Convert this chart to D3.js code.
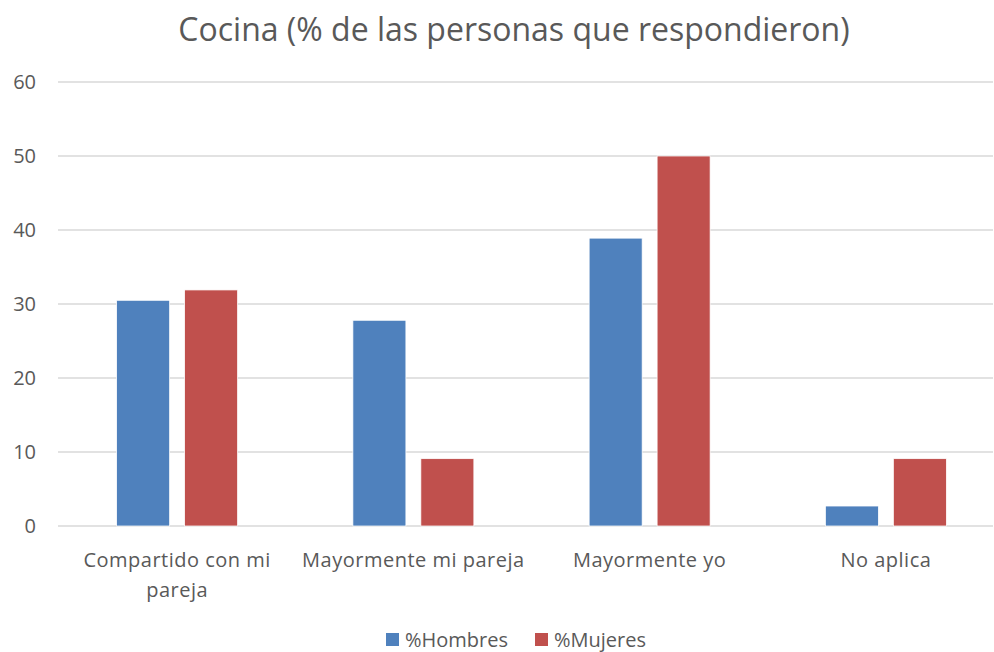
<!DOCTYPE html>
<html>
<head>
<meta charset="utf-8">
<script src="https://cdn.jsdelivr.net/npm/d3@7"></script>
<style>
  body { margin: 0; background: #fff; }
  text { font-family: "Open Sans", "Liberation Sans", sans-serif; fill: #595959; }
</style>
</head>
<body>
<script>
//chart data
var categories = ["Compartido con mi pareja", "Mayormente mi pareja", "Mayormente yo", "No aplica"];
var seriesNames = ["%Hombres", "%Mujeres"];
var hombres = [30.5, 27.8, 38.9, 2.7];
var mujeres = [31.9, 9.1, 50.0, 9.1];
var yTicks = [0, 10, 20, 30, 40, 50, 60];
var colors = ["#4F81BD", "#C0504D"];

(function(){
    var width = 994, height = 652;
    var left = 58, right = 993, top = 82, bottom = 526;

    var svg = d3.select("body").append("svg")
        .attr("width", width)
        .attr("height", height);

    //title
    svg.append("text")
        .attr("x", 514)
        .attr("y", 41)
        .attr("text-anchor", "middle")
        .style("font-size", "32px")
        .text("Cocina (% de las personas que respondieron)");

    var y = d3.scaleLinear().domain([0, 60]).range([bottom, top]);
    var x0 = d3.scaleBand().domain(categories).range([59, 1004]);
    var x1 = d3.scaleBand().domain(seriesNames).range([0, x0.bandwidth()])
        .paddingInner(0.22).paddingOuter(0.848);

    //gridlines
    svg.selectAll(".grid")
        .data(yTicks)
        .enter().append("line")
        .attr("x1", left).attr("x2", right)
        .attr("y1", function(d){ return y(d); })
        .attr("y2", function(d){ return y(d); })
        .attr("stroke", "#D9D9D9")
        .attr("stroke-width", 1.5);

    //y tick labels
    svg.selectAll(".ytick")
        .data(yTicks)
        .enter().append("text")
        .attr("x", 36)
        .attr("y", function(d){ return y(d) + 7; })
        .attr("text-anchor", "end")
        .style("font-size", "20px")
        .text(function(d){ return d; });

    //bars
    var rows = categories.map(function(c, i){
        return { cat: c, vals: [hombres[i], mujeres[i]] };
    });
    var groups = svg.selectAll(".cat")
        .data(rows)
        .enter().append("g")
        .attr("transform", function(d){ return "translate(" + x0(d.cat) + ",0)"; });
    groups.selectAll("rect")
        .data(function(d){ return d.vals.map(function(v, j){ return { s: seriesNames[j], v: v, j: j }; }); })
        .enter().append("rect")
        .attr("x", function(d){ return x1(d.s); })
        .attr("width", x1.bandwidth())
        .attr("y", function(d){ return y(d.v); })
        .attr("height", function(d){ return bottom - y(d.v); })
        .attr("fill", function(d){ return colors[d.j]; })
        .attr("stroke", "#fff")
        .attr("stroke-width", 0.75);

    //category labels (wrapped like the original)
    var catLines = [["Compartido con mi", "pareja"], ["Mayormente mi pareja"], ["Mayormente yo"], ["No aplica"]];
    categories.forEach(function(c, i){
        var t = svg.append("text")
            .attr("text-anchor", "middle")
            .style("font-size", "20px")
            .style("letter-spacing", "0.5px");
        catLines[i].forEach(function(line, k){
            t.append("tspan")
                .attr("x", x0(c) + x0.bandwidth() / 2)
                .attr("y", 567 + k * 30)
                .text(line);
        });
    });

    //legend
    var legendX = [386, 535];
    seriesNames.forEach(function(s, i){
        svg.append("rect")
            .attr("x", legendX[i]).attr("y", 633)
            .attr("width", 13).attr("height", 13)
            .attr("fill", colors[i]);
        svg.append("text")
            .attr("x", legendX[i] + 19)
            .attr("y", 647)
            .style("font-size", "20px")
            .text(s);
    });
})();
</script>
</body>
</html>
